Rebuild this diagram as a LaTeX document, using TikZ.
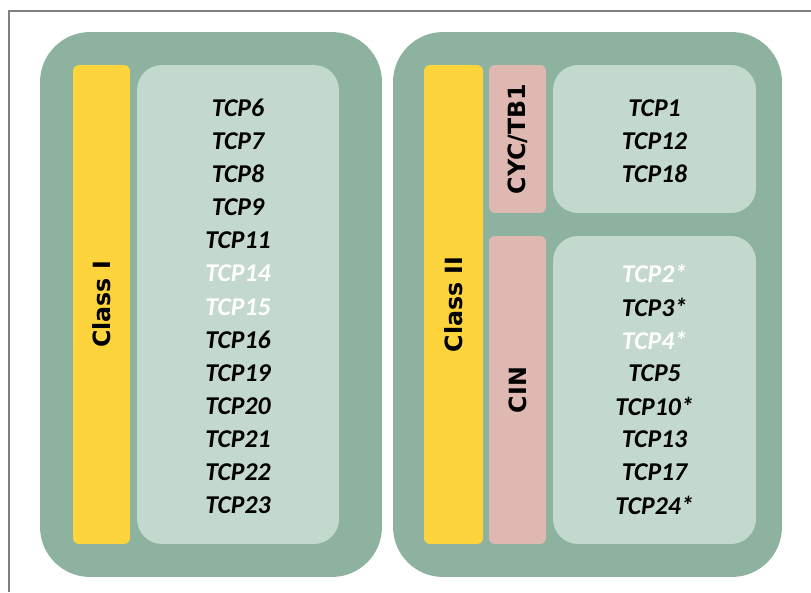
\documentclass[tikz,border=0pt]{standalone}
\usepackage{fontspec}
\setmainfont{Carlito}
\newfontfamily\labelfont{DejaVu Sans}
\usepackage{tikz}
\usetikzlibrary{positioning}
\definecolor{outergreen}{RGB}{141,179,160}
\definecolor{panelgreen}{RGB}{196,217,205}
\definecolor{classyellow}{RGB}{253,212,60}
\definecolor{subpink}{RGB}{224,184,178}
\definecolor{framegray}{RGB}{128,128,128}
\tikzset{
  outerbox/.style={rectangle,fill=outergreen,rounded corners=1cm,inner sep=0pt},
  panelbox/.style={rectangle,fill=panelgreen,rounded corners=0.5cm,inner sep=0pt},
  classbox/.style={rectangle,fill=classyellow,rounded corners=0.12cm,inner sep=0pt},
  subbox/.style={rectangle,fill=subpink,rounded corners=0.12cm,inner sep=0pt},
  gene/.style={font=\fontsize{14.6}{16}\selectfont\bfseries\itshape,text=black},
  genew/.style={gene,text=white},
  vlabel/.style={font=\labelfont\fontsize{13.5}{15}\selectfont\bfseries,rotate=90}
}
\begin{document}
\begin{tikzpicture}[x=0.02cm,y=-0.02cm]
\useasboundingbox (0,0) rectangle (811,592);
\draw[framegray,line width=1.2pt] (9,592) |- (811,11);
% class I
\node[outerbox,minimum width=6.84cm,minimum height=10.9cm] (outerI) at (211,304.5) {};
\node[classbox,minimum width=1.14cm,minimum height=9.58cm] (barI) at (101.5,304.5) {};
\node[panelbox,minimum width=4.04cm,minimum height=9.58cm] (panelI) at (238,304.5) {};
\node[vlabel] (classI) at (barI) {Class I};
\node[gene] (tcp6) at (238,108) {TCP6};
\node[gene] (tcp7) at (238,141) {TCP7};
\node[gene] (tcp8) at (238,174) {TCP8};
\node[gene] (tcp9) at (238,207) {TCP9};
\node[gene] (tcp11) at (238,240) {TCP11};
\node[genew] (tcp14) at (238,273) {TCP14};
\node[genew] (tcp15) at (238,307) {TCP15};
\node[gene] (tcp16) at (238,340) {TCP16};
\node[gene] (tcp19) at (238,373) {TCP19};
\node[gene] (tcp20) at (238,406) {TCP20};
\node[gene] (tcp21) at (238,439) {TCP21};
\node[gene] (tcp22) at (238,472) {TCP22};
\node[gene] (tcp23) at (238,505) {TCP23};
% class II
\node[outerbox,minimum width=7.78cm,minimum height=10.9cm] (outerII) at (587.5,304.5) {};
\node[classbox,minimum width=1.18cm,minimum height=9.58cm] (barII) at (453.5,304.5) {};
\node[subbox,minimum width=1.14cm,minimum height=2.96cm] (cyc) at (517.5,139) {};
\node[subbox,minimum width=1.14cm,minimum height=6.16cm] (cin) at (517.5,390) {};
\node[panelbox,minimum width=4.06cm,minimum height=2.96cm] (panelcyc) at (654.5,139) {};
\node[panelbox,minimum width=4.06cm,minimum height=6.16cm] (panelcin) at (654.5,390) {};
\node[vlabel] (classII) at (barII) {Class II};
\node[vlabel] (cyclabel) at (cyc) {CYC/TB1};
\node[vlabel] (cinlabel) at (cin) {CIN};
\node[gene] (tcp1) at (654.5,108) {TCP1};
\node[gene] (tcp12) at (654.5,141) {TCP12};
\node[gene] (tcp18) at (654.5,174) {TCP18};
\node[genew] (tcp2) at (654.5,273) {TCP2*};
\node[gene] (tcp3) at (654.5,307) {TCP3*};
\node[genew] (tcp4) at (654.5,340) {TCP4*};
\node[gene] (tcp5) at (654.5,373) {TCP5};
\node[gene] (tcp10) at (654.5,406) {TCP10*};
\node[gene] (tcp13) at (654.5,439) {TCP13};
\node[gene] (tcp17) at (654.5,472) {TCP17};
\node[gene] (tcp24) at (654.5,505) {TCP24*};
\end{tikzpicture}
\end{document}
